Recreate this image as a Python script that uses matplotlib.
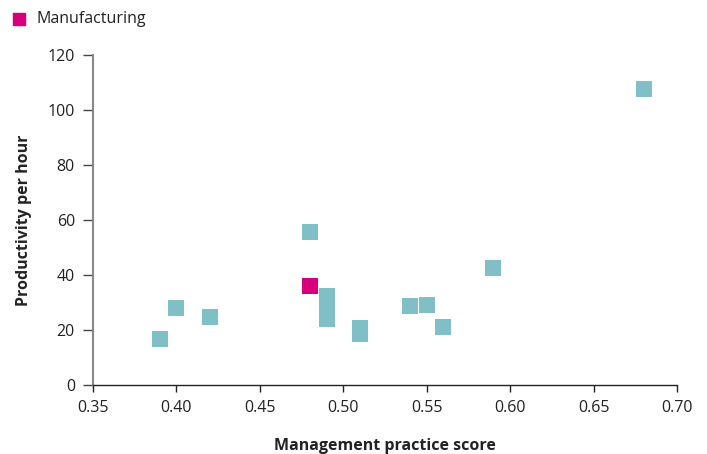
import matplotlib
matplotlib.use("Agg")
import matplotlib.pyplot as plt

plt.rcParams['font.family'] = ['Open Sans', 'DejaVu Sans']

# other sectors
score = [0.39, 0.40, 0.42, 0.48, 0.49, 0.49, 0.49, 0.51, 0.51, 0.54, 0.55, 0.56, 0.59, 0.68]
productivity = [16.6, 27.9, 24.6, 55.6, 32.3, 28.0, 23.9, 20.7, 18.4, 28.6, 29.0, 21.0, 42.4, 107.5]

# manufacturing
manuf_score = [0.48]
manuf_prod = [35.8]

teal = '#80bfc6'
magenta = '#d6007f'

fig = plt.figure(figsize=(7.07, 4.54), dpi=100)
ax = fig.add_axes([93/707, 69/454, 584/707, 330.3/454])

ax.scatter(score, productivity, marker='s', s=120, c=teal, linewidths=0, zorder=3)
ax.scatter(manuf_score, manuf_prod, marker='s', s=120, c=magenta, linewidths=0, zorder=4)

ax.set_xlim(0.35, 0.70)
ax.set_ylim(0, 120)
ax.set_xticks([0.35, 0.40, 0.45, 0.50, 0.55, 0.60, 0.65, 0.70])
ax.set_xticklabels(['%.2f' % v for v in ax.get_xticks()])
ax.set_yticks(range(0, 121, 20))

for s in ['top', 'right']:
    ax.spines[s].set_visible(False)
ax.spines['left'].set_color('#888888')
ax.spines['left'].set_linewidth(1.5)
ax.spines['bottom'].set_color('#222222')
ax.spines['bottom'].set_linewidth(1.0)
ax.tick_params(axis='y', length=7, width=1, color='#444444', labelsize=11.5, labelcolor='#222222', pad=6)
ax.tick_params(axis='x', length=5, width=1, color='#222222', labelsize=11.5, labelcolor='#222222', pad=6)

ax.set_xlabel('Management practice score', fontsize=11.5, fontweight='bold', color='#222222', labelpad=16)
ax.set_ylabel('Productivity per hour', fontsize=11.5, fontweight='bold', color='#222222', labelpad=11)

# legend
fig.patches.append(plt.Rectangle((13/707, 1 - 25/454), 12/707, 12/454, transform=fig.transFigure,
                                 color=magenta, figure=fig))
fig.text(37/707, 1 - 19/454, 'Manufacturing', fontsize=11.5, color='#222222', va='center', ha='left')

fig.savefig('out.png', dpi=100)
